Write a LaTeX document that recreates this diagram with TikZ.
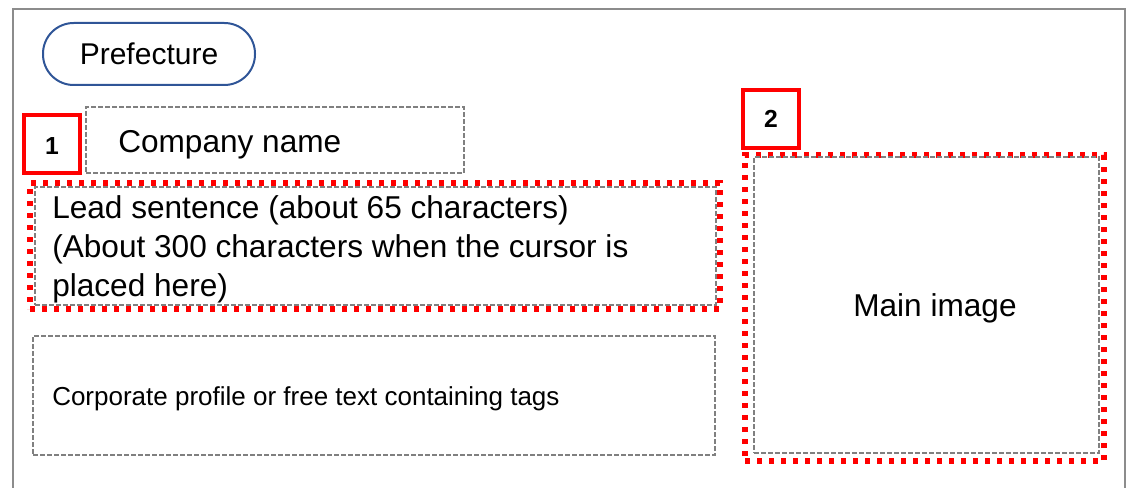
\documentclass[tikz,border=0pt]{standalone}
\usepackage{fontspec}
\setmainfont{Liberation Sans}
\definecolor{frame}{HTML}{8C8C8C}
\definecolor{dgrey}{HTML}{808080}
\definecolor{pillblue}{HTML}{2F5597}
\definecolor{mred}{HTML}{FF0000}
\tikzset{
  x=0.75pt, y=-0.75pt,
  greybox/.style={draw=dgrey, line width=1pt, dash pattern=on 3.75pt off 1.5pt, inner sep=0pt},
  reddots/.style={draw=mred, line width=4pt, dash pattern=on 4pt off 5pt, inner sep=0pt},
  numbox/.style={draw=mred, line width=3pt, minimum width=42pt, minimum height=43.5pt, inner sep=0pt,
     font=\fontsize{18.5pt}{20pt}\selectfont\bfseries},
  bigtext/.style={font=\fontsize{23.7pt}{29.5pt}\selectfont, inner sep=0pt},
}
\begin{document}
\begin{tikzpicture}
\useasboundingbox (0,0) rectangle (1128,488);
% outer frame
\draw[frame, line width=1.9pt] (13,495) -- (13,9) -- (1125,9) -- (1125,495);
% prefecture pill
\node[draw=pillblue, line width=1.5pt, rounded corners=23pt, minimum width=159pt, minimum height=46.5pt,
  font=\fontsize{22.5pt}{26pt}\selectfont] (pref) at (149,54) {Prefecture};
% company name
\node[greybox, minimum width=283.5pt, minimum height=49.5pt] (compbox) at (275,140) {};
\node[bigtext, anchor=base west] (comptext) at (118,153) {Company name};
\node[numbox] (n1) at (52,144) {};
\node[font=\fontsize{18.5pt}{20pt}\selectfont\bfseries, inner sep=0pt] (n1text) at (52,146.5) {1};
% lead sentence
\node[reddots, minimum width=517.5pt, minimum height=94.5pt] (leadred) at (375,246) {};
\node[greybox, minimum width=510.75pt, minimum height=88.5pt] (leadbox) at (375.5,246) {};
\node[bigtext, anchor=north west, align=left] (leadtext) at (52,195)
  {Lead sentence (about 65 characters)\\(About 300 characters when the cursor is\\placed here)};
% main image
\node[numbox] (n2) at (771,119) {2};
\node[reddots, minimum width=269.25pt, minimum height=229.5pt] (mainred) at (924.5,308) {};
\node[greybox, minimum width=258.75pt, minimum height=222pt] (mainbox) at (926.5,305) {};
\node[bigtext] (maintext) at (935,308) {Main image};
% corporate profile
\node[greybox, minimum width=511.5pt, minimum height=89.25pt] (corpbox) at (374,395.5) {};
\node[font=\fontsize{19.5pt}{22pt}\selectfont, inner sep=0pt, anchor=west] (corptext) at (52,399)
  {Corporate profile or free text containing tags};
\end{tikzpicture}
\end{document}
